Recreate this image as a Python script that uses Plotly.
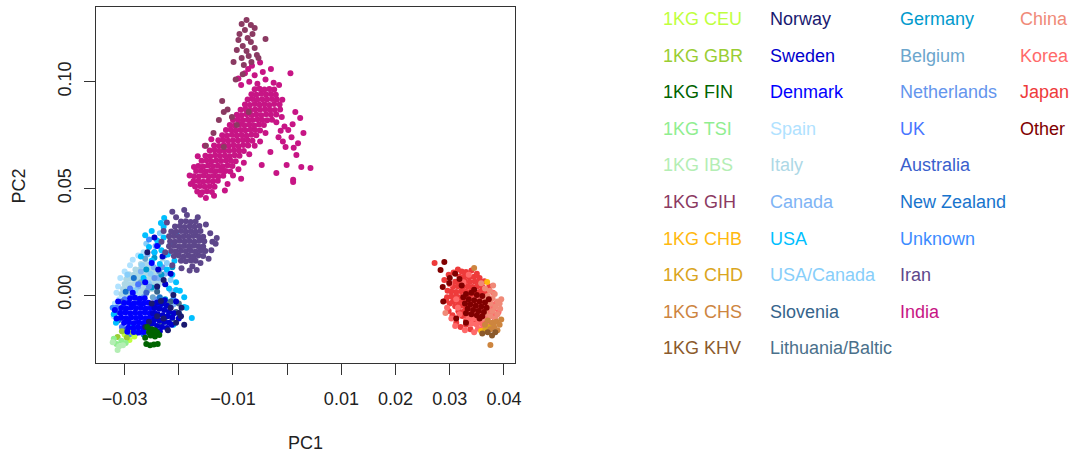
import plotly.graph_objects as go

# ---------------- principal-component coordinates per group (PC1, PC2) ----------------
india = [
    (-0.0166, 0.0485), (-0.0157, 0.0482), (-0.0148, 0.0486), (-0.0139, 0.0483),
    (-0.0170, 0.0509), (-0.0161, 0.0511), (-0.0152, 0.0507), (-0.0143, 0.0510), (-0.0134, 0.0508),
    (-0.0173, 0.0533), (-0.0164, 0.0535), (-0.0155, 0.0531), (-0.0146, 0.0534), (-0.0137, 0.0532), (-0.0128, 0.0536),
    (-0.0172, 0.0557), (-0.0163, 0.0555), (-0.0154, 0.0559), (-0.0145, 0.0556), (-0.0136, 0.0558), (-0.0127, 0.0555), (-0.0118, 0.0559),
    (-0.0168, 0.0581), (-0.0159, 0.0583), (-0.0150, 0.0579), (-0.0141, 0.0582), (-0.0132, 0.0580), (-0.0123, 0.0583), (-0.0114, 0.0581), (-0.0105, 0.0579),
    (-0.0164, 0.0605), (-0.0155, 0.0603), (-0.0146, 0.0607), (-0.0137, 0.0604), (-0.0128, 0.0606), (-0.0119, 0.0603), (-0.0110, 0.0607), (-0.0101, 0.0605),
    (-0.0158, 0.0629), (-0.0149, 0.0631), (-0.0140, 0.0627), (-0.0131, 0.0630), (-0.0122, 0.0628), (-0.0113, 0.0631), (-0.0104, 0.0629), (-0.0095, 0.0627),
    (-0.0151, 0.0653), (-0.0142, 0.0651), (-0.0133, 0.0655), (-0.0124, 0.0652), (-0.0115, 0.0654), (-0.0106, 0.0651), (-0.0097, 0.0655), (-0.0088, 0.0653),
    (-0.0143, 0.0677), (-0.0134, 0.0679), (-0.0125, 0.0675), (-0.0116, 0.0678), (-0.0107, 0.0676), (-0.0098, 0.0679), (-0.0089, 0.0677), (-0.0080, 0.0675),
    (-0.0135, 0.0701), (-0.0126, 0.0699), (-0.0117, 0.0703), (-0.0108, 0.0700), (-0.0099, 0.0702), (-0.0090, 0.0699), (-0.0081, 0.0703), (-0.0072, 0.0701),
    (-0.0127, 0.0725), (-0.0118, 0.0727), (-0.0109, 0.0723), (-0.0100, 0.0726), (-0.0091, 0.0724), (-0.0082, 0.0727), (-0.0073, 0.0725), (-0.0064, 0.0723),
    (-0.0120, 0.0749), (-0.0111, 0.0747), (-0.0102, 0.0751), (-0.0093, 0.0748), (-0.0084, 0.0750), (-0.0075, 0.0747), (-0.0066, 0.0751), (-0.0057, 0.0749),
    (-0.0113, 0.0773), (-0.0104, 0.0775), (-0.0095, 0.0771), (-0.0086, 0.0774), (-0.0077, 0.0772), (-0.0068, 0.0775), (-0.0059, 0.0773), (-0.0050, 0.0771),
    (-0.0106, 0.0797), (-0.0097, 0.0795), (-0.0088, 0.0799), (-0.0079, 0.0796), (-0.0070, 0.0798), (-0.0061, 0.0795), (-0.0052, 0.0799), (-0.0043, 0.0797),
    (-0.0100, 0.0821), (-0.0091, 0.0823), (-0.0082, 0.0819), (-0.0073, 0.0822), (-0.0064, 0.0820), (-0.0055, 0.0823), (-0.0046, 0.0821), (-0.0037, 0.0819), (-0.0028, 0.0822),
    (-0.0093, 0.0845), (-0.0084, 0.0843), (-0.0075, 0.0847), (-0.0066, 0.0844), (-0.0057, 0.0846), (-0.0048, 0.0843), (-0.0039, 0.0847), (-0.0030, 0.0845), (-0.0020, 0.0846),
    (-0.0086, 0.0869), (-0.0077, 0.0871), (-0.0068, 0.0867), (-0.0059, 0.0870), (-0.0050, 0.0868), (-0.0041, 0.0871), (-0.0032, 0.0869), (-0.0023, 0.0867), (-0.0013, 0.0870),
    (-0.0078, 0.0893), (-0.0069, 0.0891), (-0.0060, 0.0895), (-0.0051, 0.0892), (-0.0042, 0.0894), (-0.0033, 0.0891), (-0.0024, 0.0895), (-0.0014, 0.0893),
    (-0.0073, 0.0917), (-0.0064, 0.0919), (-0.0055, 0.0915), (-0.0046, 0.0918), (-0.0037, 0.0916), (-0.0028, 0.0919), (-0.0019, 0.0917), (-0.0009, 0.0915),
    (-0.0066, 0.0941), (-0.0057, 0.0939), (-0.0048, 0.0943), (-0.0039, 0.0940), (-0.0030, 0.0942), (-0.0021, 0.0939),
    (-0.0060, 0.0965), (-0.0051, 0.0967), (-0.0042, 0.0963), (-0.0033, 0.0966), (-0.0024, 0.0964),
    # sparser samples around the band
    (-0.0085, 0.0985), (-0.0070, 0.1000), (-0.0055, 0.0990), (-0.0040, 0.1010), (-0.0025, 0.0995),
    (-0.0060, 0.1030), (-0.0045, 0.1045), (-0.0078, 0.1040), (-0.0030, 0.1060), (-0.0065, 0.1075),
    (-0.0015, 0.0985), (-0.0090, 0.1015), (-0.0050, 0.1090), (-0.0072, 0.1060),
    (-0.0178, 0.0520), (-0.0180, 0.0560), (-0.0172, 0.0600), (-0.0165, 0.0650), (-0.0160, 0.0470),
    (-0.0150, 0.0455), (-0.0135, 0.0465), (-0.0152, 0.0700), (-0.0140, 0.0730),
    (-0.0110, 0.0520), (-0.0100, 0.0560), (-0.0090, 0.0590), (-0.0080, 0.0620), (-0.0070, 0.0660),
    (-0.0060, 0.0700), (-0.0050, 0.0720), (-0.0040, 0.0760), (-0.0115, 0.0490), (-0.0085, 0.0545),
    (0.0006, 0.1040), (0.0015, 0.0858), (0.0024, 0.0830), (-0.0010, 0.0834), (0.0002, 0.0774),
    (-0.0016, 0.0740), (0.0008, 0.0740), (-0.0003, 0.0694), (0.0020, 0.0712), (-0.0031, 0.0670),
    (0.0017, 0.0656), (0.0026, 0.0600), (0.0043, 0.0595), (0.0011, 0.0540), (-0.0001, 0.0610),
    (-0.0020, 0.0572), (-0.0047, 0.0610), (0.0011, 0.0530), (-0.0005, 0.0790), (0.0010, 0.0800),
    (-0.0020, 0.0810), (0.0030, 0.0760), (-0.0008, 0.0720), (0.0012, 0.0690), (-0.0012, 0.0770),
]

gih = [
    (-0.0075, 0.1289), (-0.0084, 0.1271), (-0.0067, 0.1266), (-0.0060, 0.1252), (-0.0078, 0.1242),
    (-0.0088, 0.1224), (-0.0064, 0.1224), (-0.0073, 0.1205), (-0.0090, 0.1195), (-0.0067, 0.1186),
    (-0.0082, 0.1167), (-0.0060, 0.1158), (-0.0093, 0.1149), (-0.0075, 0.1144), (-0.0071, 0.1120),
    (-0.0084, 0.1111), (-0.0056, 0.1125), (-0.0099, 0.1092), (-0.0053, 0.1111), (-0.0066, 0.1092),
    (-0.0080, 0.1078), (-0.0040, 0.1200), (-0.0095, 0.1010), (-0.0082, 0.1035),
    (-0.0120, 0.0910), (-0.0117, 0.0858), (-0.0126, 0.0820), (-0.0102, 0.0834), (-0.0136, 0.0760),
    (-0.0093, 0.0797), (-0.0071, 0.0858), (-0.0117, 0.0694), (-0.0150, 0.0700), (-0.0110, 0.0870),
]

iran = [
    (-0.0196, 0.0160), (-0.0187, 0.0158), (-0.0178, 0.0162), (-0.0169, 0.0160),
    (-0.0209, 0.0183), (-0.0200, 0.0185), (-0.0191, 0.0181), (-0.0182, 0.0184), (-0.0173, 0.0182), (-0.0164, 0.0185), (-0.0155, 0.0183),
    (-0.0214, 0.0206), (-0.0205, 0.0204), (-0.0196, 0.0208), (-0.0187, 0.0205), (-0.0178, 0.0207), (-0.0169, 0.0204), (-0.0160, 0.0208), (-0.0151, 0.0206),
    (-0.0218, 0.0229), (-0.0209, 0.0231), (-0.0200, 0.0227), (-0.0191, 0.0230), (-0.0182, 0.0228), (-0.0173, 0.0231), (-0.0164, 0.0229), (-0.0155, 0.0227),
    (-0.0216, 0.0252), (-0.0207, 0.0250), (-0.0198, 0.0254), (-0.0189, 0.0251), (-0.0180, 0.0253), (-0.0171, 0.0250), (-0.0162, 0.0254), (-0.0153, 0.0252),
    (-0.0218, 0.0275), (-0.0209, 0.0277), (-0.0200, 0.0273), (-0.0191, 0.0276), (-0.0182, 0.0274), (-0.0173, 0.0277), (-0.0164, 0.0275), (-0.0155, 0.0273),
    (-0.0214, 0.0298), (-0.0205, 0.0296), (-0.0196, 0.0300), (-0.0187, 0.0297), (-0.0178, 0.0299), (-0.0169, 0.0296), (-0.0160, 0.0300),
    (-0.0207, 0.0321), (-0.0198, 0.0323), (-0.0189, 0.0319), (-0.0180, 0.0322), (-0.0171, 0.0320), (-0.0162, 0.0323),
    (-0.0196, 0.0344), (-0.0187, 0.0346), (-0.0178, 0.0342), (-0.0169, 0.0345),
    (-0.0228, 0.0300), (-0.0232, 0.0250), (-0.0225, 0.0200), (-0.0212, 0.0140), (-0.0195, 0.0125),
    (-0.0175, 0.0135), (-0.0160, 0.0150), (-0.0145, 0.0170), (-0.0140, 0.0210), (-0.0138, 0.0250),
    (-0.0142, 0.0290), (-0.0150, 0.0330), (-0.0165, 0.0365), (-0.0185, 0.0375), (-0.0205, 0.0365),
    (-0.0222, 0.0340), (-0.0130, 0.0267), (-0.0132, 0.0240), (-0.0190, 0.0398), (-0.0167, 0.0117),
    (-0.0180, 0.0115), (-0.0212, 0.0390),
]

denmark = [
    (-0.0290, -0.0015), (-0.0281, -0.0013), (-0.0272, -0.0017), (-0.0263, -0.0015),
    (-0.0301, -0.0038), (-0.0292, -0.0036), (-0.0283, -0.0040), (-0.0274, -0.0037), (-0.0265, -0.0039), (-0.0256, -0.0036), (-0.0247, -0.0040),
    (-0.0306, -0.0061), (-0.0297, -0.0063), (-0.0288, -0.0059), (-0.0279, -0.0062), (-0.0270, -0.0060), (-0.0261, -0.0063), (-0.0252, -0.0061), (-0.0243, -0.0059),
    (-0.0308, -0.0084), (-0.0299, -0.0082), (-0.0290, -0.0086), (-0.0281, -0.0083), (-0.0272, -0.0085), (-0.0263, -0.0082), (-0.0254, -0.0086), (-0.0245, -0.0084),
    (-0.0306, -0.0107), (-0.0297, -0.0109), (-0.0288, -0.0105), (-0.0279, -0.0108), (-0.0270, -0.0106), (-0.0261, -0.0109), (-0.0252, -0.0107), (-0.0243, -0.0105),
    (-0.0301, -0.0130), (-0.0292, -0.0128), (-0.0283, -0.0132), (-0.0274, -0.0129), (-0.0265, -0.0131), (-0.0256, -0.0128), (-0.0247, -0.0132),
    (-0.0293, -0.0153), (-0.0284, -0.0155), (-0.0275, -0.0151), (-0.0266, -0.0154), (-0.0257, -0.0152),
    (-0.0283, -0.0174), (-0.0274, -0.0176), (-0.0265, -0.0173),
    (-0.0318, -0.0070), (-0.0315, -0.0110), (-0.0312, -0.0030), (-0.0235, -0.0050), (-0.0230, -0.0120),
    (-0.0250, -0.0170), (-0.0295, -0.0172), (-0.0285, 0.0010), (-0.0262, 0.0060), (-0.0250, 0.0150),
    (-0.0240, 0.0230),
]

sweden = [
    (-0.0240, -0.0035), (-0.0231, -0.0040), (-0.0222, -0.0050), (-0.0245, -0.0060), (-0.0236, -0.0065),
    (-0.0227, -0.0070), (-0.0218, -0.0078), (-0.0248, -0.0085), (-0.0239, -0.0090), (-0.0230, -0.0095),
    (-0.0221, -0.0100), (-0.0212, -0.0105), (-0.0245, -0.0115), (-0.0236, -0.0120), (-0.0227, -0.0125),
    (-0.0218, -0.0130), (-0.0240, -0.0145), (-0.0231, -0.0150), (-0.0222, -0.0155), (-0.0250, -0.0135),
    (-0.0235, -0.0170), (-0.0213, -0.0140), (-0.0209, -0.0085), (-0.0255, -0.0160), (-0.0226, -0.0025),
    (-0.0230, 0.0180), (-0.0215, 0.0100), (-0.0245, 0.0270), (-0.0225, 0.0050), (-0.0205, -0.0030),
    (-0.0200, -0.0110), (-0.0238, 0.0120),
]

norway = [
    (-0.0250, -0.0040), (-0.0240, -0.0100), (-0.0228, -0.0110), (-0.0215, -0.0060), (-0.0205, -0.0130),
    (-0.0255, -0.0125), (-0.0262, -0.0150), (-0.0233, -0.0028), (-0.0220, -0.0165), (-0.0248, -0.0178),
    (-0.0196, -0.0100), (-0.0210, 0.0000), (-0.0228, 0.0070), (-0.0258, 0.0200), (-0.0240, 0.0040),
    (-0.0195, -0.0060), (-0.0190, -0.0140), (-0.0200, -0.0084),
]

italy = [
    (-0.0270, 0.0145), (-0.0261, 0.0147), (-0.0252, 0.0143),
    (-0.0280, 0.0120), (-0.0271, 0.0122), (-0.0262, 0.0118), (-0.0253, 0.0121), (-0.0244, 0.0119),
    (-0.0292, 0.0097), (-0.0283, 0.0095), (-0.0274, 0.0099), (-0.0265, 0.0096), (-0.0256, 0.0098), (-0.0247, 0.0095), (-0.0238, 0.0099),
    (-0.0297, 0.0074), (-0.0288, 0.0076), (-0.0279, 0.0072), (-0.0270, 0.0075), (-0.0261, 0.0073), (-0.0252, 0.0076), (-0.0243, 0.0074), (-0.0234, 0.0072),
    (-0.0300, 0.0051), (-0.0291, 0.0049), (-0.0282, 0.0053), (-0.0273, 0.0050), (-0.0264, 0.0052), (-0.0255, 0.0049), (-0.0246, 0.0053), (-0.0237, 0.0051),
    (-0.0303, 0.0028), (-0.0294, 0.0030), (-0.0285, 0.0026), (-0.0276, 0.0029), (-0.0267, 0.0027), (-0.0258, 0.0030), (-0.0249, 0.0028),
    (-0.0306, 0.0005), (-0.0297, 0.0003), (-0.0288, 0.0007), (-0.0279, 0.0004), (-0.0270, 0.0006), (-0.0261, 0.0003),
    (-0.0312, -0.0050), (-0.0230, 0.0170), (-0.0225, 0.0050),
]

spain = [
    (-0.0290, 0.0140), (-0.0300, 0.0110), (-0.0308, 0.0080), (-0.0312, 0.0040), (-0.0315, 0.0010),
    (-0.0285, 0.0165), (-0.0275, 0.0185), (-0.0265, 0.0200), (-0.0310, -0.0020), (-0.0318, -0.0040),
    (-0.0320, -0.0100), (-0.0300, -0.0160), (-0.0296, 0.0060), (-0.0278, 0.0090), (-0.0258, 0.0130),
]

usa = [
    (-0.0262, 0.0280), (-0.0250, 0.0300), (-0.0240, 0.0255), (-0.0228, 0.0270), (-0.0215, 0.0240),
    (-0.0255, 0.0225), (-0.0245, 0.0200), (-0.0232, 0.0210), (-0.0220, 0.0190), (-0.0208, 0.0160),
    (-0.0250, 0.0160), (-0.0235, 0.0145), (-0.0222, 0.0120), (-0.0212, 0.0095), (-0.0205, 0.0060),
    (-0.0198, 0.0020), (-0.0190, -0.0010), (-0.0186, -0.0060), (-0.0200, -0.0085), (-0.0320, -0.0090),
    (-0.0316, -0.0130), (-0.0205, 0.0290), (-0.0270, 0.0180), (-0.0265, 0.0080), (-0.0218, 0.0030),
    (-0.0285, -0.0150), (-0.0210, -0.0140), (-0.0228, 0.0320), (-0.0176, -0.0108), (-0.0190, -0.0056),
    (-0.0205, 0.0023), (-0.0233, 0.0338), (-0.0227, 0.0361),
]

canada = [
    (-0.0258, 0.0190), (-0.0246, 0.0130), (-0.0270, 0.0110), (-0.0238, 0.0080), (-0.0225, 0.0100),
    (-0.0214, 0.0020), (-0.0302, -0.0050), (-0.0292, -0.0130), (-0.0230, -0.0060), (-0.0243, 0.0230),
    (-0.0275, 0.0040), (-0.0210, -0.0045),
]

usa_canada = [
    (-0.0260, 0.0240), (-0.0252, 0.0100), (-0.0268, 0.0140), (-0.0240, 0.0040), (-0.0280, 0.0020),
    (-0.0235, 0.0290), (-0.0222, 0.0150), (-0.0295, 0.0095), (-0.0255, 0.0055), (-0.0215, 0.0070),
]

germany = [
    (-0.0245, 0.0175), (-0.0232, 0.0095), (-0.0225, -0.0020), (-0.0212, 0.0130), (-0.0260, 0.0120),
    (-0.0238, 0.0235), (-0.0250, 0.0035), (-0.0218, -0.0090),
]

belgium = [(-0.0270, 0.0060), (-0.0258, 0.0020), (-0.0248, -0.0010), (-0.0275, -0.0030), (-0.0236, 0.0110), (-0.0262, 0.0170)]

netherlands = [(-0.0265, -0.0010), (-0.0255, 0.0040), (-0.0245, 0.0080), (-0.0285, 0.0000), (-0.0240, -0.0020),
               (-0.0230, 0.0130), (-0.0310, -0.0080)]

uk = [(-0.0300, -0.0020), (-0.0290, 0.0030), (-0.0310, -0.0110), (-0.0275, 0.0050), (-0.0305, -0.0150),
      (-0.0270, -0.0165), (-0.0315, -0.0060), (-0.0255, -0.0180)]

australia = [(-0.0305, -0.0030), (-0.0296, -0.0160), (-0.0280, -0.0180), (-0.0318, -0.0085), (-0.0260, 0.0010), (-0.0245, 0.0200)]

new_zealand = [(-0.0312, -0.0120), (-0.0298, 0.0015), (-0.0265, -0.0185), (-0.0283, 0.0080), (-0.0235, -0.0010)]

unknown = [(-0.0322, -0.0060), (-0.0290, -0.0185), (-0.0240, 0.0035), (-0.0255, 0.0260), (-0.0226, 0.0185),
           (-0.0210, -0.0020), (-0.0275, -0.0160)]

slovenia = [(-0.0215, -0.0030), (-0.0225, -0.0125), (-0.0240, 0.0015), (-0.0205, -0.0080)]

lithuania = [(-0.0220, -0.0045), (-0.0232, -0.0140), (-0.0212, -0.0110), (-0.0245, -0.0165), (-0.0200, -0.0040)]

kg_fin = [
    (-0.0258, -0.0150), (-0.0250, -0.0160), (-0.0244, -0.0165), (-0.0255, -0.0175), (-0.0247, -0.0180),
    (-0.0240, -0.0175), (-0.0252, -0.0190), (-0.0244, -0.0195), (-0.0236, -0.0188), (-0.0260, -0.0230),
    (-0.0253, -0.0235), (-0.0246, -0.0232), (-0.0239, -0.0230), (-0.0262, -0.0200),
]
kg_ceu = [(-0.0291, -0.0211), (-0.0300, -0.0185), (-0.0282, -0.0195)]
kg_gbr = [(-0.0313, -0.0197), (-0.0305, -0.0170), (-0.0296, -0.0200), (-0.0286, -0.0175)]
kg_tsi = [(-0.0306, -0.0215), (-0.0315, -0.0230), (-0.0298, -0.0225), (-0.0320, -0.0205)]
kg_ibs = [(-0.0313, -0.0258), (-0.0310, -0.0240), (-0.0322, -0.0222), (-0.0303, -0.0235)]

japan = [
    (0.0318, 0.0085), (0.0327, 0.0087), (0.0336, 0.0083), (0.0345, 0.0086),
    (0.0310, 0.0062), (0.0319, 0.0060), (0.0328, 0.0064), (0.0337, 0.0061), (0.0346, 0.0063), (0.0355, 0.0060),
    (0.0306, 0.0039), (0.0315, 0.0041), (0.0324, 0.0037), (0.0333, 0.0040), (0.0342, 0.0038), (0.0351, 0.0041), (0.0360, 0.0039),
    (0.0303, 0.0016), (0.0312, 0.0014), (0.0321, 0.0018), (0.0330, 0.0015), (0.0339, 0.0017), (0.0348, 0.0014), (0.0357, 0.0018), (0.0366, 0.0016),
    (0.0303, -0.0007), (0.0312, -0.0005), (0.0321, -0.0009), (0.0330, -0.0006), (0.0339, -0.0008), (0.0348, -0.0005), (0.0357, -0.0009), (0.0366, -0.0007),
    (0.0306, -0.0030), (0.0315, -0.0032), (0.0324, -0.0028), (0.0333, -0.0031), (0.0342, -0.0029), (0.0351, -0.0032), (0.0360, -0.0030),
    (0.0310, -0.0053), (0.0319, -0.0051), (0.0328, -0.0055), (0.0337, -0.0052), (0.0346, -0.0054), (0.0355, -0.0051),
    (0.0316, -0.0076), (0.0325, -0.0078), (0.0334, -0.0074), (0.0343, -0.0077), (0.0352, -0.0075),
    (0.0323, -0.0099), (0.0332, -0.0097), (0.0341, -0.0101), (0.0350, -0.0098),
    (0.0330, -0.0122), (0.0339, -0.0124), (0.0348, -0.0120),
    (0.0290, 0.0070), (0.0296, 0.0020), (0.0300, -0.0040), (0.0322, 0.0110), (0.0340, 0.0115),
    (0.0330, -0.0140), (0.0360, -0.0130), (0.0272, 0.0150),
    (0.0298, 0.0095), (0.0307, 0.0105), (0.0315, 0.0120), (0.0330, 0.0108), (0.0350, 0.0100),
    (0.0295, -0.0010), (0.0293, -0.0025), (0.0298, -0.0075), (0.0305, -0.0095), (0.0312, -0.0130),
    (0.0320, -0.0150), (0.0338, -0.0160), (0.0355, 0.0080), (0.0364, 0.0065), (0.0373, 0.0040),
]

korea = [
    (0.0345, -0.0020), (0.0354, -0.0018), (0.0363, -0.0022), (0.0372, -0.0019),
    (0.0340, -0.0043), (0.0349, -0.0045), (0.0358, -0.0041), (0.0367, -0.0044), (0.0376, -0.0042),
    (0.0336, -0.0066), (0.0345, -0.0064), (0.0354, -0.0068), (0.0363, -0.0065), (0.0372, -0.0067), (0.0381, -0.0064),
    (0.0332, -0.0089), (0.0341, -0.0091), (0.0350, -0.0087), (0.0359, -0.0090), (0.0368, -0.0088), (0.0377, -0.0091),
    (0.0334, -0.0112), (0.0343, -0.0110), (0.0352, -0.0114), (0.0361, -0.0111), (0.0370, -0.0113),
    (0.0340, -0.0135), (0.0349, -0.0137), (0.0358, -0.0133), (0.0367, -0.0136),
    (0.0352, -0.0158), (0.0361, -0.0156),
    (0.0300, 0.0050), (0.0312, -0.0020), (0.0325, 0.0060), (0.0318, -0.0090), (0.0295, -0.0060),
    (0.0335, 0.0095),
    (0.0385, -0.0095), (0.0390, -0.0080), (0.0383, -0.0120), (0.0375, -0.0140), (0.0345, -0.0175),
    (0.0328, -0.0165), (0.0310, -0.0145), (0.0303, -0.0110), (0.0385, -0.0040), (0.0380, 0.0010),
    (0.0315, -0.0060),
]

china = [
    (0.0365, 0.0030), (0.0374, 0.0020), (0.0383, 0.0005), (0.0370, -0.0005), (0.0379, -0.0015),
    (0.0388, -0.0030), (0.0366, -0.0025), (0.0375, -0.0040), (0.0384, -0.0055), (0.0393, -0.0065),
    (0.0370, -0.0060), (0.0379, -0.0075), (0.0388, -0.0090), (0.0366, -0.0085), (0.0375, -0.0100),
    (0.0384, -0.0110), (0.0360, -0.0110), (0.0392, -0.0040), (0.0380, 0.0045), (0.0292, -0.0084),
    (0.0358, 0.0055), (0.0395, -0.0020),
]

kg_chb = [(0.0369, 0.0061), (0.0358, -0.0169)]
kg_chd = [(0.0372, -0.0150), (0.0380, -0.0140), (0.0366, -0.0160)]
kg_chs = [
    (0.0370, -0.0120), (0.0378, -0.0130), (0.0386, -0.0125), (0.0392, -0.0140), (0.0382, -0.0150),
    (0.0375, -0.0160), (0.0388, -0.0165), (0.0395, -0.0115), (0.0375, -0.0234), (0.0365, -0.0140),
    (0.0345, 0.0127),
]
kg_khv = [(0.0384, -0.0175), (0.0370, -0.0175), (0.0378, -0.0190), (0.0360, -0.0180)]

other = [
    (0.0330, 0.0005), (0.0340, 0.0010), (0.0350, 0.0000), (0.0360, -0.0005), (0.0335, -0.0020),
    (0.0345, -0.0025), (0.0355, -0.0030), (0.0365, -0.0035), (0.0328, -0.0040), (0.0338, -0.0045),
    (0.0348, -0.0050), (0.0358, -0.0055), (0.0368, -0.0060), (0.0333, -0.0065), (0.0343, -0.0070),
    (0.0353, -0.0075), (0.0363, -0.0080), (0.0340, -0.0090), (0.0350, -0.0095), (0.0360, -0.0100),
    (0.0325, -0.0010), (0.0372, -0.0020), (0.0345, 0.0025), (0.0355, -0.0110), (0.0330, -0.0085),
    (0.0290, 0.0155), (0.0283, 0.0117), (0.0300, 0.0080), (0.0310, 0.0100), (0.0318, 0.0075),
    (0.0299, 0.0056), (0.0287, 0.0038), (0.0322, 0.0045), (0.0288, -0.0030), (0.0312, -0.0110),
    (0.0330, -0.0130),
]

# ---------------- group colours ----------------
colors = {
    "1KG CEU": "#BFFF3E", "1KG GBR": "#9ACD32", "1KG FIN": "#006400", "1KG TSI": "#90EE90",
    "1KG IBS": "#B4EEB4", "1KG GIH": "#8B3A62", "1KG CHB": "#FFB90F", "1KG CHD": "#DAA520",
    "1KG CHS": "#CD853F", "1KG KHV": "#8B5A2B",
    "Norway": "#191970", "Sweden": "#0000CD", "Denmark": "#0000FF", "Spain": "#B0E2FF",
    "Italy": "#ADD8E6", "Canada": "#7EB4F5", "USA": "#00BFFF", "USA/Canada": "#87CEFA",
    "Slovenia": "#36648B", "Lithuania/Baltic": "#4A708B",
    "Germany": "#009ACD", "Belgium": "#6CA6CD", "Netherlands": "#6495ED", "UK": "#4876FF",
    "Australia": "#3A5FCD", "New Zealand": "#1874CD", "Unknown": "#3C8CFF", "Iran": "#5D478B",
    "India": "#C71585",
    "China": "#F08A78", "Korea": "#FF6A6A", "Japan": "#EE3B3B", "Other": "#800000",
}

# drawing order (later groups sit on top)
draw_order = [
    ("Spain", spain), ("Italy", italy), ("Canada", canada), ("USA/Canada", usa_canada),
    ("Germany", germany), ("Belgium", belgium), ("Netherlands", netherlands), ("UK", uk),
    ("Australia", australia), ("New Zealand", new_zealand), ("Unknown", unknown), ("USA", usa),
    ("1KG CEU", kg_ceu), ("1KG GBR", kg_gbr), ("1KG TSI", kg_tsi), ("1KG IBS", kg_ibs),
    ("Denmark", denmark), ("Slovenia", slovenia), ("Lithuania/Baltic", lithuania),
    ("Sweden", sweden), ("Norway", norway), ("1KG FIN", kg_fin),
    ("India", india), ("1KG GIH", gih), ("Iran", iran),
    ("Japan", japan), ("Korea", korea), ("China", china), ("1KG CHB", kg_chb),
    ("1KG CHD", kg_chd), ("1KG CHS", kg_chs), ("1KG KHV", kg_khv), ("Other", other),
]

legend_columns = [
    ["1KG CEU", "1KG GBR", "1KG FIN", "1KG TSI", "1KG IBS", "1KG GIH", "1KG CHB", "1KG CHD", "1KG CHS", "1KG KHV"],
    ["Norway", "Sweden", "Denmark", "Spain", "Italy", "Canada", "USA", "USA/Canada", "Slovenia", "Lithuania/Baltic"],
    ["Germany", "Belgium", "Netherlands", "UK", "Australia", "New Zealand", "Unknown", "Iran", "India"],
    ["China", "Korea", "Japan", "Other"],
]

x_ticks = [-0.03, -0.02, -0.01, 0.0, 0.01, 0.02, 0.03, 0.04]
x_tick_text = ["\u22120.03", "", "\u22120.01", "", "0.01", "0.02", "0.03", "0.04"]
y_ticks = [0.0, 0.05, 0.10]
y_tick_text = ["0.00", "0.05", "0.10"]

W, H = 1078, 455
FONT = "Liberation Sans, Arial, sans-serif"

fig = go.Figure()
for name, pts in draw_order:
    xs = [p[0] for p in pts]
    ys = [p[1] for p in pts]
    fig.add_trace(go.Scatter(
        x=xs, y=ys, mode="markers", name=name, showlegend=False,
        marker=dict(size=6, color=colors[name], line=dict(width=0)),
        hoverinfo="skip",
    ))

# plot box in pixels
box_l, box_r, box_t, box_b = 96.7, 518.0, 6.7, 363.3

axis_style = dict(
    showgrid=False, zeroline=False, showline=True, mirror=True,
    linecolor="#333333", linewidth=1, ticks="outside", ticklen=11,
    tickcolor="#333333", tickwidth=1,
    tickfont=dict(family=FONT, size=18, color="#222222"),
)

fig.update_layout(
    width=W, height=H,
    margin=dict(l=0, r=0, t=0, b=0),
    paper_bgcolor="white", plot_bgcolor="white",
    xaxis=dict(domain=[box_l / W, box_r / W], range=[-0.03525, 0.04206],
               tickvals=x_ticks, ticktext=x_tick_text, ticklabelstandoff=8, **axis_style),
    yaxis=dict(domain=[1 - box_b / H, 1 - box_t / H], range=[-0.03202, 0.13516],
               tickvals=y_ticks, ticktext=y_tick_text, tickangle=-90, ticklabelstandoff=6, **axis_style),
    font=dict(family=FONT),
)

annotations = [
    dict(text="PC1", x=(box_l + box_r) / 2 / W, y=1 - 443 / H, xref="paper", yref="paper",
         showarrow=False, xanchor="center", yanchor="middle",
         font=dict(family=FONT, size=18, color="#222222")),
    dict(text="PC2", x=19.5 / W, y=1 - 186 / H, xref="paper", yref="paper", textangle=-90,
         showarrow=False, xanchor="center", yanchor="middle",
         font=dict(family=FONT, size=18, color="#222222")),
]

col_x = [665, 772, 903, 1024]
row_y0, row_dy = 19, 36.6
for cx, names in zip(col_x, legend_columns):
    for i, nm in enumerate(names):
        annotations.append(dict(
            text=nm, x=cx / W, y=1 - (row_y0 + i * row_dy) / H, xref="paper", yref="paper",
            showarrow=False, xanchor="left", yanchor="middle",
            font=dict(family=FONT, size=18, color=colors[nm]),
        ))

fig.update_layout(annotations=annotations)
fig.write_html("out.html")
